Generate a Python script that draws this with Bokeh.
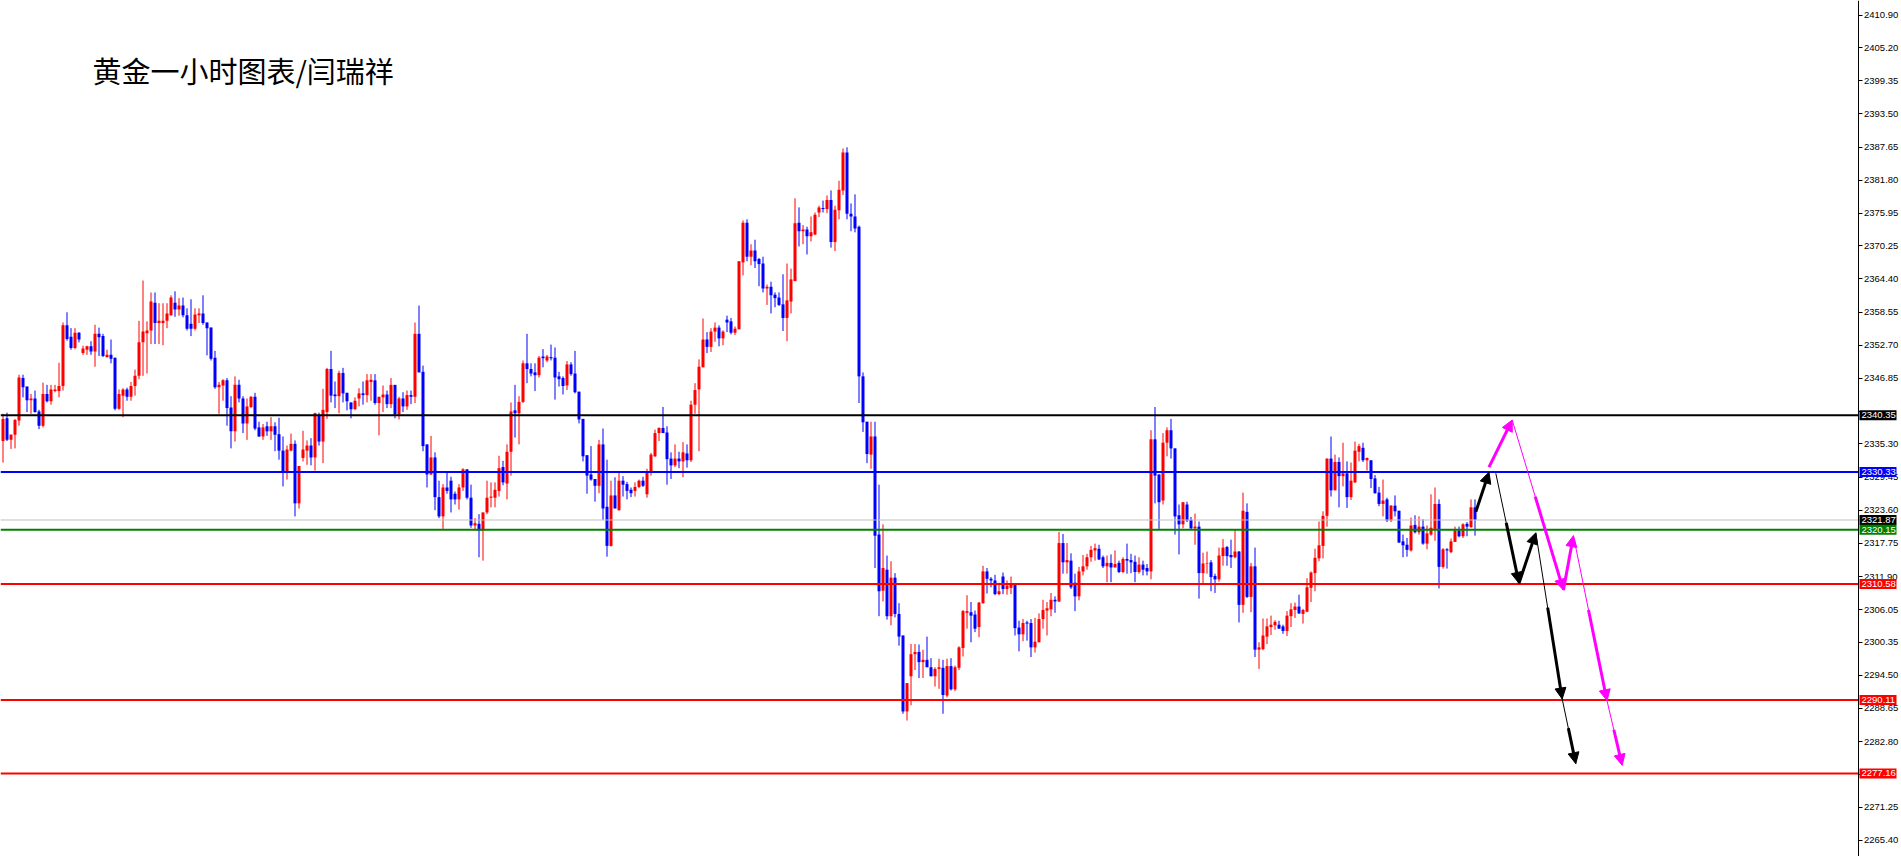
from bokeh.plotting import figure
from bokeh.models import (Range1d, LinearAxis, FixedTicker, NumeralTickFormatter,
                          Label, Arrow, NormalHead, ColumnDataSource, Grid)
from bokeh.core.properties import value
from bokeh.embed import file_html
from bokeh.resources import INLINE

title_text = "黄金一小时图表/闫瑞祥"

opens = [
2335.8,2339.8,2336.0,2336.9,2339.4,2346.9,2345.4,2343.0,2343.3,2341.0,
2338.5,2344.1,2342.8,2344.6,2344.6,2345.5,2356.2,2354.2,2352.2,2354.9,
2351.3,2351.9,2352.5,2351.6,2354.7,2354.3,2350.6,2351.0,2350.5,2341.5,
2343.8,2344.9,2343.6,2345.5,2347.3,2353.2,2354.8,2355.3,2360.2,2356.6,
2356.6,2357.0,2358.0,2360.2,2359.0,2359.7,2358.0,2356.5,2355.6,2358.0,
2358.3,2356.7,2355.8,2350.5,2345.3,2345.6,2346.5,2341.7,2337.5,2345.7,
2343.3,2338.9,2341.8,2343.6,2338.2,2336.6,2338.4,2337.5,2338.4,2337.0,
2334.1,2330.5,2334.1,2335.3,2324.8,2332.8,2334.1,2335.0,2332.9,2340.3,
2335.7,2340.9,2348.5,2344.0,2343.7,2347.8,2344.3,2342.6,2341.4,2343.3,
2344.2,2343.9,2346.2,2346.5,2342.5,2343.5,2344.0,2342.3,2345.7,2340.5,
2343.3,2341.9,2343.9,2343.6,2354.7,2348.0,2335.2,2329.9,2332.9,2325.9,
2322.5,2327.6,2328.8,2326.5,2325.5,2327.6,2330.8,2325.8,2320.9,2321.2,
2320.0,2323.2,2325.8,2325.8,2327.0,2331.2,2328.3,2333.9,2341.2,2340.7,
2342.7,2349.5,2348.5,2347.9,2347.4,2350.7,2350.0,2350.6,2350.5,2347.2,
2346.9,2345.6,2349.3,2347.7,2344.5,2339.7,2333.3,2329.9,2329.1,2327.9,
2335.2,2324.2,2317.3,2326.2,2323.6,2328.8,2328.2,2327.2,2327.0,2327.7,
2328.8,2326.4,2330.5,2333.1,2337.2,2338.1,2337.3,2332.7,2331.5,2332.7,
2332.2,2333.6,2332.4,2342.2,2344.9,2348.8,2353.7,2352.4,2355.1,2355.8,
2353.9,2357.2,2356.9,2354.9,2355.5,2367.3,2374.3,2368.3,2369.4,2367.9,
2367.1,2362.7,2363.0,2361.6,2361.1,2359.9,2357.5,2360.4,2364.0,2374.3,
2372.8,2373.1,2371.9,2372.2,2376.1,2376.9,2376.7,2378.3,2370.9,2376.5,
2380.0,2386.7,2375.9,2375.4,2373.6,2347.2,2339.2,2333.4,2336.6,2319.3,
2309.4,2313.1,2304.9,2311.7,2305.3,2301.5,2288.1,2294.3,2298.2,2298.6,
2296.8,2297.2,2295.9,2294.3,2295.6,2295.8,2290.9,2296.1,2292.0,2295.8,
2299.3,2305.5,2305.6,2305.2,2303.0,2307.2,2312.8,2311.5,2311.2,2308.8,
2311.9,2309.7,2309.9,2310.7,2302.9,2301.7,2303.8,2303.7,2299.4,2300.3,
2304.4,2305.9,2306.1,2307.8,2307.5,2317.8,2314.4,2314.7,2310.8,2308.4,
2312.8,2313.7,2315.3,2316.5,2316.8,2315.3,2313.7,2314.3,2313.5,2314.3,
2312.7,2315.0,2314.8,2314.5,2312.7,2314.0,2313.4,2312.8,2336.1,2329.9,
2325.3,2335.5,2337.7,2334.5,2322.7,2321.1,2324.6,2321.9,2320.4,2320.7,
2312.5,2314.1,2314.4,2312.0,2311.4,2315.5,2317.1,2315.7,2315.3,2316.3,
2306.9,2323.3,2308.3,2313.7,2299.0,2299.1,2301.3,2303.0,2303.3,2303.4,
2303.1,2302.3,2304.9,2306.0,2306.6,2305.3,2305.7,2309.9,2312.5,2315.1,
2317.3,2322.6,2332.7,2327.1,2332.1,2329.6,2330.1,2325.9,2328.5,2333.9,
2334.6,2332.4,2332.4,2329.2,2326.7,2324.7,2325.5,2321.8,2324.4,2323.5,
2318.1,2317.5,2316.5,2321.0,2319.7,2320.7,2317.7,2319.3,2320.3,2324.7,
2313.6,2316.7,2316.2,2318.0,2320.0,2319.0,2321.2,2320.6,2324.1]

highs = [
2340.6,2340.8,2337.0,2339.7,2347.5,2347.5,2345.4,2344.1,2344.7,2341.3,
2346.1,2345.7,2345.7,2345.7,2349.6,2356.7,2358.5,2355.7,2355.7,2355.0,
2352.6,2352.6,2353.4,2356.3,2355.8,2354.7,2351.9,2353.7,2350.5,2344.9,
2345.1,2345.2,2346.2,2348.4,2357.0,2364.1,2356.9,2362.0,2362.0,2360.1,
2360.1,2360.1,2361.5,2362.2,2361.0,2361.1,2359.2,2360.8,2359.2,2359.2,
2361.5,2356.7,2355.8,2351.7,2346.2,2346.7,2346.9,2343.7,2347.2,2346.6,
2343.7,2343.3,2343.7,2344.3,2339.2,2338.8,2339.2,2340.0,2339.1,2339.9,
2336.6,2335.0,2337.1,2335.9,2331.4,2337.6,2335.9,2336.3,2340.8,2340.8,
2345.0,2348.7,2351.7,2346.3,2348.2,2348.7,2344.3,2342.6,2343.5,2345.1,
2346.3,2347.6,2347.6,2347.6,2343.6,2345.6,2344.7,2346.9,2345.7,2343.6,
2344.4,2344.7,2344.7,2356.7,2359.7,2349.1,2335.2,2336.7,2333.8,2328.8,
2328.2,2330.3,2329.5,2326.9,2328.2,2331.0,2330.8,2328.1,2322.2,2322.9,
2323.2,2328.8,2328.5,2328.5,2333.2,2332.3,2335.2,2342.6,2345.7,2343.7,
2350.0,2354.7,2349.5,2349.5,2350.8,2352.0,2351.0,2352.8,2352.3,2348.0,
2347.2,2349.9,2349.7,2351.7,2344.5,2339.7,2333.3,2334.9,2329.1,2336.0,
2338.0,2332.5,2328.8,2329.4,2330.2,2329.6,2328.6,2327.6,2328.5,2329.0,
2329.5,2330.9,2333.7,2337.8,2338.2,2341.8,2338.4,2333.8,2335.2,2333.9,
2335.6,2335.2,2342.9,2346.0,2350.2,2357.4,2355.0,2355.7,2356.7,2356.2,
2355.3,2357.9,2357.5,2356.0,2367.5,2374.7,2374.9,2370.5,2371.3,2368.1,
2368.3,2363.4,2363.9,2362.0,2362.0,2365.2,2367.1,2366.2,2378.6,2377.0,
2373.9,2373.6,2375.4,2376.1,2377.3,2378.2,2379.1,2380.0,2377.3,2381.7,
2387.4,2387.6,2377.7,2379.3,2373.8,2347.9,2339.2,2339.2,2339.2,2328.1,
2321.1,2315.6,2314.6,2312.5,2307.2,2301.5,2293.1,2300.0,2300.0,2299.9,
2299.0,2301.3,2297.5,2295.9,2297.4,2297.2,2297.4,2297.5,2296.2,2299.6,
2306.0,2308.6,2307.4,2305.9,2307.4,2313.8,2313.4,2311.8,2312.2,2310.8,
2312.6,2311.2,2311.9,2310.7,2304.1,2304.4,2304.1,2304.4,2304.6,2305.4,
2307.8,2307.4,2309.0,2308.4,2319.8,2319.4,2317.8,2316.0,2312.4,2313.6,
2315.7,2315.9,2317.3,2317.7,2317.5,2315.6,2315.6,2315.8,2316.5,2314.7,
2315.3,2317.7,2315.9,2315.6,2315.3,2314.7,2314.1,2337.7,2341.8,2329.9,
2337.2,2338.2,2339.7,2334.5,2324.6,2325.0,2325.1,2322.4,2323.0,2321.6,
2316.1,2316.3,2314.8,2312.4,2317.0,2318.5,2317.3,2318.4,2320.1,2316.4,
2326.7,2324.8,2314.3,2317.0,2300.3,2304.5,2304.5,2305.0,2304.2,2304.1,
2303.4,2305.8,2307.2,2307.3,2308.7,2306.2,2311.6,2312.8,2316.8,2321.6,
2323.4,2332.7,2336.6,2333.4,2332.9,2335.5,2332.2,2332.0,2335.7,2335.3,
2335.5,2332.9,2332.4,2329.8,2327.7,2329.0,2325.8,2324.5,2326.2,2323.5,
2319.3,2318.7,2322.3,2322.7,2322.5,2322.0,2320.9,2326.4,2327.6,2325.5,
2316.9,2316.9,2318.6,2320.7,2320.7,2321.3,2321.5,2325.5,2325.5]

lows = [
2332.0,2335.8,2334.4,2334.5,2338.5,2343.5,2340.9,2340.6,2340.8,2337.9,
2338.2,2342.6,2342.2,2344.4,2343.5,2344.7,2353.5,2351.9,2352.0,2353.2,
2351.0,2351.0,2351.0,2348.9,2350.8,2350.6,2350.5,2349.5,2341.2,2341.3,
2340.0,2342.9,2342.9,2343.8,2346.7,2347.3,2347.7,2352.9,2352.9,2352.9,
2352.7,2355.7,2357.9,2357.7,2357.9,2357.6,2355.3,2354.3,2355.3,2356.6,
2356.3,2350.9,2350.0,2345.0,2340.6,2342.9,2338.5,2334.5,2335.7,2342.6,
2337.2,2336.0,2341.6,2337.7,2336.5,2336.0,2336.7,2336.0,2334.0,2332.5,
2327.8,2329.0,2334.0,2322.5,2323.9,2332.2,2331.6,2331.5,2330.6,2335.0,
2331.9,2339.7,2342.6,2341.6,2340.7,2342.6,2341.2,2339.8,2341.3,2341.9,
2342.2,2342.6,2342.9,2342.2,2336.8,2340.9,2341.6,2341.6,2339.8,2339.6,
2340.9,2341.3,2342.3,2342.5,2347.9,2334.0,2327.6,2329.8,2323.6,2322.2,
2320.3,2326.5,2323.2,2324.6,2323.7,2327.0,2325.5,2320.5,2320.0,2315.3,
2314.7,2322.9,2324.1,2324.1,2326.0,2328.0,2325.5,2329.7,2336.4,2335.2,
2342.5,2346.0,2347.2,2344.6,2347.0,2348.8,2349.7,2350.0,2343.1,2345.4,
2344.0,2344.8,2347.3,2344.2,2338.9,2332.2,2326.5,2328.8,2325.1,2326.6,
2321.9,2315.4,2317.2,2323.9,2323.5,2326.0,2325.5,2325.9,2326.0,2327.5,
2327.7,2325.8,2329.7,2333.0,2335.8,2337.2,2328.1,2329.1,2331.2,2331.0,
2329.4,2331.1,2332.1,2340.6,2334.0,2348.8,2351.3,2351.5,2353.3,2352.5,
2352.7,2355.0,2354.6,2354.5,2355.5,2365.0,2367.5,2366.8,2366.3,2363.1,
2362.0,2359.8,2358.3,2359.4,2359.6,2355.2,2353.4,2358.3,2364.0,2370.1,
2370.5,2368.7,2371.0,2372.1,2375.3,2376.1,2376.0,2369.9,2369.3,2374.9,
2379.2,2374.9,2372.8,2372.6,2342.5,2337.4,2331.9,2330.9,2313.4,2304.9,
2307.5,2304.3,2303.3,2304.7,2299.7,2287.7,2286.5,2289.2,2295.4,2294.0,
2294.0,2295.9,2294.3,2292.5,2292.1,2287.7,2290.6,2291.8,2291.7,2295.4,
2297.8,2302.7,2300.3,2302.1,2301.2,2307.1,2308.9,2310.0,2308.6,2308.6,
2308.8,2308.7,2308.8,2301.5,2298.7,2300.5,2300.6,2297.7,2298.5,2300.3,
2302.7,2301.5,2304.9,2305.5,2307.4,2312.4,2312.4,2309.7,2305.8,2307.7,
2312.1,2313.1,2314.5,2314.7,2314.8,2313.4,2310.9,2310.9,2313.5,2312.5,
2312.5,2312.4,2312.5,2310.9,2312.4,2312.1,2312.1,2311.4,2324.8,2320.3,
2324.6,2333.1,2332.7,2319.3,2315.8,2320.4,2321.5,2320.2,2317.5,2308.0,
2310.7,2312.4,2309.3,2309.0,2311.0,2313.8,2313.8,2313.4,2315.1,2303.8,
2305.5,2308.1,2305.6,2297.7,2295.6,2298.9,2300.0,2301.6,2302.5,2302.7,
2301.8,2301.4,2303.0,2304.6,2305.3,2303.6,2305.6,2307.4,2309.3,2314.6,
2315.1,2320.7,2326.0,2327.1,2324.1,2327.8,2324.0,2325.4,2328.4,2332.2,
2332.1,2330.6,2327.5,2326.5,2324.3,2322.5,2321.5,2321.5,2322.5,2317.8,
2315.3,2315.4,2316.3,2319.5,2319.3,2317.5,2316.7,2319.1,2318.2,2309.8,
2313.3,2313.3,2316.0,2318.0,2318.8,2318.7,2319.0,2320.5,2319.1]

closes = [
2339.7,2336.0,2336.9,2339.5,2347.0,2345.3,2343.0,2343.3,2340.9,2338.5,
2344.1,2342.8,2344.9,2344.9,2345.5,2356.2,2353.8,2352.2,2354.9,2353.7,
2352.1,2352.5,2351.6,2354.7,2354.1,2350.8,2351.0,2350.3,2341.5,2344.1,
2344.9,2343.6,2345.5,2347.3,2353.2,2355.1,2355.3,2360.4,2356.6,2357.0,
2357.0,2358.3,2361.1,2359.0,2359.7,2358.0,2355.6,2355.6,2358.1,2358.3,
2356.6,2355.7,2350.3,2345.3,2345.7,2346.5,2341.6,2337.5,2345.7,2343.3,
2338.9,2341.9,2343.6,2338.0,2336.6,2338.2,2337.5,2338.4,2336.9,2334.1,
2330.5,2334.3,2335.3,2324.8,2331.4,2334.3,2335.0,2332.9,2340.7,2335.7,
2341.3,2348.5,2343.8,2343.7,2347.8,2344.2,2342.8,2341.4,2342.9,2344.2,
2343.9,2346.5,2346.6,2342.5,2343.6,2344.0,2342.3,2345.7,2340.5,2343.3,
2341.9,2343.9,2343.6,2354.7,2347.9,2334.9,2329.9,2332.9,2325.9,2322.5,
2327.6,2327.0,2325.5,2325.5,2327.6,2330.8,2325.8,2320.9,2321.3,2320.0,
2323.2,2325.8,2326.0,2327.2,2331.0,2328.5,2333.9,2341.0,2340.7,2342.7,
2349.5,2348.5,2347.7,2347.4,2350.5,2350.4,2350.7,2350.4,2347.0,2346.7,
2345.5,2349.3,2347.6,2344.4,2339.6,2333.1,2329.7,2329.0,2327.9,2335.2,
2323.9,2317.3,2326.2,2323.9,2328.8,2328.1,2327.0,2326.6,2327.7,2328.8,
2327.9,2330.3,2333.4,2337.2,2338.1,2337.2,2332.6,2331.5,2332.7,2332.2,
2333.8,2332.4,2342.2,2344.8,2348.9,2353.7,2352.4,2355.1,2355.8,2353.9,
2355.1,2356.7,2354.9,2355.6,2367.5,2374.3,2368.3,2369.4,2367.5,2367.0,
2362.7,2363.0,2361.5,2361.0,2359.8,2357.5,2360.6,2364.3,2374.2,2372.8,
2373.1,2371.9,2372.6,2375.7,2377.0,2376.7,2378.3,2370.9,2376.6,2380.1,
2386.7,2375.9,2375.4,2373.3,2347.2,2339.1,2333.5,2336.6,2319.1,2309.3,
2313.4,2304.9,2311.7,2305.3,2301.3,2288.1,2293.1,2298.2,2298.6,2296.8,
2297.2,2295.9,2294.3,2295.6,2295.9,2291.0,2296.1,2292.0,2295.9,2299.4,
2305.8,2305.8,2305.0,2302.7,2307.3,2312.8,2311.5,2311.2,2308.8,2309.3,
2309.7,2310.3,2310.7,2302.8,2301.7,2303.7,2303.6,2299.4,2300.4,2304.4,
2306.0,2306.3,2307.8,2307.5,2317.8,2314.4,2314.8,2310.0,2308.4,2312.8,
2313.7,2315.3,2316.6,2316.9,2314.9,2313.7,2314.3,2313.5,2314.1,2312.7,
2315.0,2314.7,2314.4,2312.7,2314.0,2313.1,2312.8,2336.1,2329.7,2325.0,
2335.5,2337.7,2334.5,2322.5,2321.1,2325.0,2321.8,2320.4,2320.7,2312.5,
2314.2,2314.2,2311.8,2311.4,2315.6,2317.0,2315.5,2315.3,2316.3,2306.9,
2323.5,2308.3,2313.7,2299.0,2299.4,2301.5,2303.1,2303.4,2303.9,2302.7,
2302.3,2305.0,2306.1,2306.6,2305.4,2306.0,2310.0,2312.6,2315.2,2317.4,
2322.6,2332.7,2327.1,2332.1,2329.6,2330.1,2325.9,2328.8,2334.1,2334.9,
2332.4,2332.8,2329.1,2326.6,2324.7,2325.3,2321.8,2324.4,2323.4,2317.9,
2317.4,2316.6,2320.9,2319.7,2320.7,2317.7,2319.5,2320.5,2324.7,2313.6,
2316.7,2316.5,2318.1,2320.0,2319.0,2321.1,2320.7,2324.1,2321.9]

tick_values = [2410.90, 2405.20, 2399.35, 2393.50, 2387.65, 2381.80, 2375.95,
               2370.25, 2364.40, 2358.55, 2352.70, 2346.85, 2341.00, 2335.30,
               2329.45, 2323.60, 2317.75, 2311.90, 2306.05, 2300.35, 2294.50,
               2288.65, 2282.80, 2276.95, 2271.25, 2265.40]
hidden_tick_labels = [2341.00, 2276.95]   # covered by price tags in the original

level_values = [2340.35, 2330.33, 2320.15, 2310.58, 2290.11, 2277.16]
level_colors = ["#000000", "#0000ff", "#008000", "#ff0000", "#ff0000", "#ff0000"]
last_price = 2321.87

# forecast paths (bar index, price)
black_x = [368.2, 371.5, 373.2, 379.0, 383.2, 389.8, 393.2]
black_y = [2323.3, 2330.3, 2330.1, 2310.7, 2319.6, 2290.3, 2278.9]
black_legs = [(0, 1, "thick"), (2, 3, "taper"), (3, 4, "thick"), (4, 5, "taper"), (5, 6, "taper")]
mag_x = [371.5, 377.3, 390.1, 392.6, 401.0, 404.8]
mag_y = [2331.2, 2339.5, 2309.5, 2319.1, 2290.0, 2278.6]
mag_legs = [(0, 1, "thick"), (1, 2, "taper"), (2, 3, "thick"), (3, 4, "taper"), (4, 5, "taper")]

UP = "#ff0000"
DOWN = "#0000ff"
FRAME_W, FRAME_H = 1900, 856
BAR_PX = 4.0
x_start = -0.625
x_end = x_start + FRAME_W / BAR_PX
axis_x = 463.75          # price-scale position (bar units)
y_bottom = 2262.52
y_top = 2413.49
PX_PER_PRICE = FRAME_H / (y_top - y_bottom)

p = figure(frame_width=FRAME_W, frame_height=FRAME_H,
           x_range=Range1d(x_start, x_end), y_range=Range1d(y_bottom, y_top),
           output_backend="svg", toolbar_location=None,
           x_axis_location=None, y_axis_location=None,
           min_border_left=0, min_border_top=0, min_border_bottom=0, min_border_right=0)
p.outline_line_color = None
p.background_fill_color = "white"
p.border_fill_color = "white"
for r in list(p.center):
    if isinstance(r, Grid):
        r.visible = False

yaxis = LinearAxis(ticker=FixedTicker(ticks=tick_values),
                   formatter=NumeralTickFormatter(format="0.00"),
                   fixed_location=axis_x)
yaxis.major_label_overrides = {v: "" for v in hidden_tick_labels}
yaxis.major_tick_out = 4
yaxis.major_tick_in = 0
yaxis.minor_tick_out = 0
yaxis.minor_tick_in = 0
yaxis.major_label_standoff = 2
yaxis.major_label_text_font = "Liberation Sans"
yaxis.major_label_text_font_size = "9.5px"
yaxis.major_label_text_color = "black"
yaxis.axis_line_color = "black"
yaxis.major_tick_line_color = "black"
p.add_layout(yaxis, "right")

n = len(opens)
xs = list(range(n))
hi = [max(h, o, c) for h, o, c in zip(highs, opens, closes)]
lo = [min(l, o, c) for l, o, c in zip(lows, opens, closes)]
src = ColumnDataSource(dict(
    x=xs, h=hi, l=lo,
    top=[max(o, c) for o, c in zip(opens, closes)],
    bottom=[min(o, c) for o, c in zip(opens, closes)],
    color=[UP if c >= o else DOWN for o, c in zip(opens, closes)],
))
p.segment(x0="x", y0="l", x1="x", y1="h", line_color="color", line_width=1, source=src)
p.vbar(x="x", width=0.75, top="top", bottom="bottom", fill_color="color",
       line_color=None, source=src)

# horizontal levels (stop at the price scale)
p.segment(x0=[x_start], y0=[last_price], x1=[axis_x], y1=[last_price],
          line_color="#c0c0c0", line_width=1)
p.segment(x0=[x_start] * len(level_values), y0=level_values,
          x1=[axis_x] * len(level_values), y1=level_values,
          line_color=level_colors, line_width=2)

# forecast arrows
def draw_path(px, py, legs, color):
    for a, b, kind in legs:
        xa, ya, xb, yb = px[a], py[a], px[b], py[b]
        if kind == "thick":
            p.add_layout(Arrow(end=NormalHead(size=11, fill_color=color, line_color=color),
                               x_start=xa, y_start=ya, x_end=xb, y_end=yb,
                               line_color=color, line_width=3))
        else:
            p.segment(x0=[xa], y0=[ya], x1=[xb], y1=[yb], line_color=color, line_width=1)
            t = 0.45
            xm = xa + (xb - xa) * t
            ym = ya + (yb - ya) * t
            p.add_layout(Arrow(end=NormalHead(size=11, fill_color=color, line_color=color),
                               x_start=xm, y_start=ym, x_end=xb, y_end=yb,
                               line_color=color, line_width=3))

draw_path(black_x, black_y, black_legs, "#000000")
draw_path(mag_x, mag_y, mag_legs, "#ff00ff")

# price tags on the price scale: colored box + white text, above the tick labels
tag_vals = [last_price] + level_values
tag_cols = ["#000000"] + level_colors
half_h = 5.0 / PX_PER_PRICE
box_left = axis_x + 1.5 / BAR_PX
box_right = axis_x + 38.5 / BAR_PX
tag_src = ColumnDataSource(dict(
    top=[v + half_h for v in tag_vals], bottom=[v - half_h for v in tag_vals],
    left=[box_left] * len(tag_vals), right=[box_right] * len(tag_vals),
    y=tag_vals, x=[axis_x + 3.5 / BAR_PX] * len(tag_vals),
    color=tag_cols, label=["%.2f" % v for v in tag_vals],
))
p.quad(left="left", right="right", top="top", bottom="bottom", fill_color="color",
       line_color=None, source=tag_src, level="overlay")
p.text(x="x", y="y", text="label", text_color="white", text_font=value("Liberation Sans"),
       text_font_size="9.5px", text_baseline="middle", text_align="left",
       source=tag_src, level="overlay")

# title
p.add_layout(Label(x=92, y=FRAME_H - 69, x_units="screen", y_units="screen",
                   text=title_text, text_font="Noto Sans CJK SC", text_font_size="29px",
                   text_baseline="middle", text_align="left", text_color="black"))

open("out.html", "w", encoding="utf-8").write(file_html(p, INLINE, title="chart"))
